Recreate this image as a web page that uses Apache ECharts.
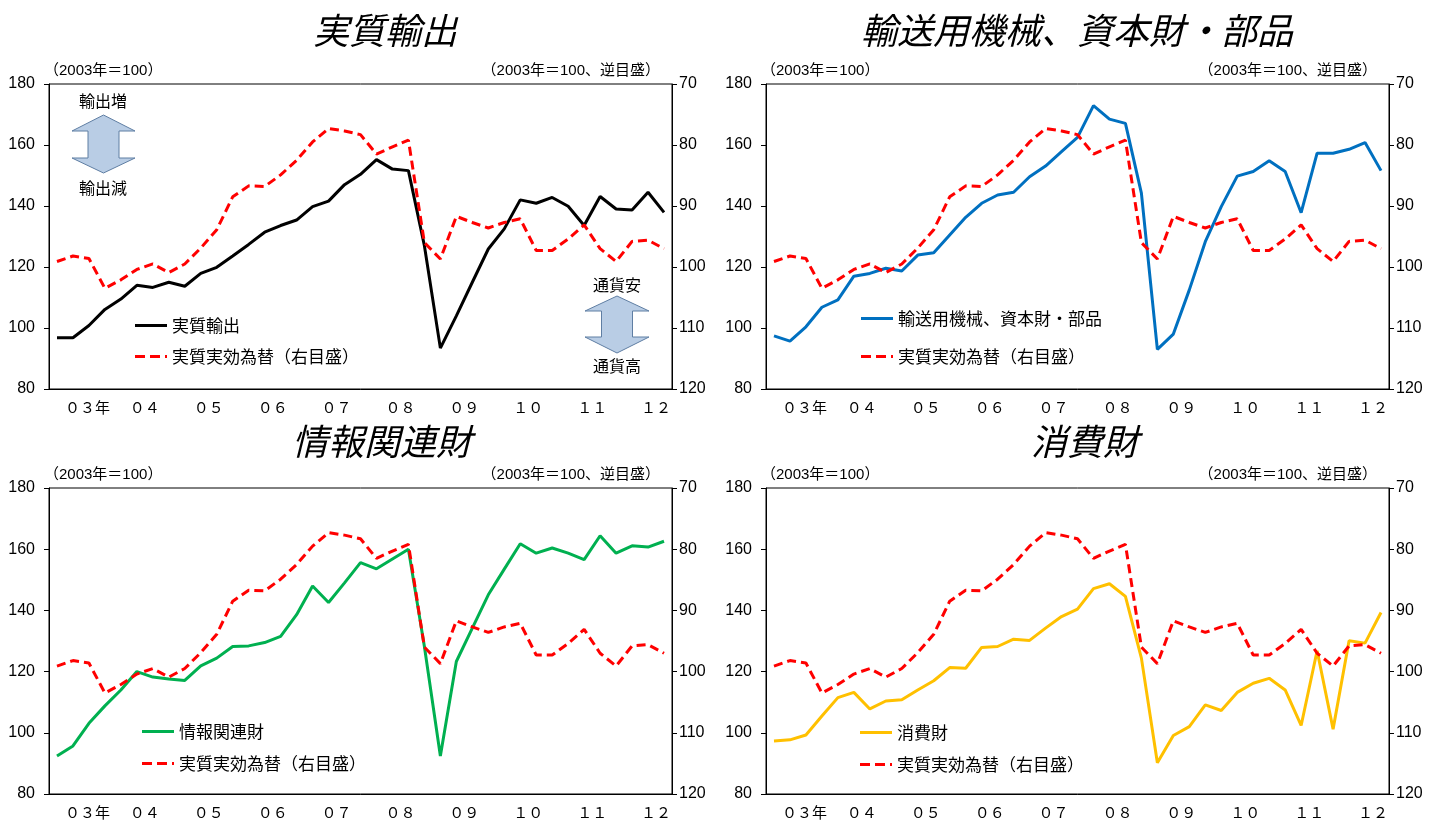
<!DOCTYPE html>
<html><head><meta charset="utf-8">
<script src="https://cdn.jsdelivr.net/npm/echarts@6/dist/echarts.min.js"></script>
<style>html,body{margin:0;padding:0;background:#fff}#c{width:1445px;height:823px}</style>
</head><body><div id="c"></div>
<script>
// ---- data ----
const yearLabels = ['０３年','０４','０５','０６','０７','０８','０９','１０','１１','１２'];
const quarterNames = ['Q1','Q2','Q3','Q4'];
const realExports = [96.8,96.8,100.8,106.1,109.5,114.0,113.3,115.0,113.7,117.9,119.9,123.6,127.4,131.4,133.6,135.4,139.8,141.6,147.0,150.4,155.2,152.1,151.6,127.0,93.4,104.0,115.0,125.9,132.5,142.0,140.9,142.8,139.9,133.6,143.1,139.0,138.7,144.5,137.9];
const transportCapital = [97.4,95.7,100.4,106.8,109.2,117.0,117.9,119.6,118.7,123.9,124.7,130.5,136.3,140.9,143.6,144.5,149.6,153.1,157.8,162.5,172.9,168.5,167.1,144.2,93.0,98.0,112.5,128.3,139.8,149.8,151.3,154.8,151.3,137.8,157.3,157.3,158.6,160.8,151.6];
const infoGoods = [92.4,95.7,103.1,108.8,114.0,120.0,118.2,117.6,117.1,121.9,124.4,128.2,128.4,129.5,131.5,138.6,148.0,142.6,149.0,155.6,153.6,156.8,160.0,128.2,92.4,123.3,134.2,145.1,153.5,161.8,158.7,160.4,158.7,156.6,164.4,158.7,161.1,160.7,162.6];
const consumerGoods = [97.3,97.7,99.3,105.5,111.5,113.2,107.8,110.4,110.8,114.0,117.0,121.3,121.1,127.9,128.2,130.6,130.2,134.2,138.0,140.4,147.1,148.7,144.6,124.4,90.2,99.1,102.0,109.1,107.3,113.2,116.2,117.8,114.0,102.4,126.8,101.2,130.1,129.3,139.3];
const reer = [99.1,98.2,98.6,103.5,102.1,100.4,99.5,100.9,99.5,96.9,93.9,88.5,86.7,86.8,84.9,82.5,79.5,77.3,77.7,78.3,81.5,80.3,79.2,96.0,98.7,91.7,92.7,93.6,92.7,92.1,97.3,97.3,95.4,93.1,97.0,99.1,95.8,95.6,97.0];
const leftAxis = {min: 80, max: 180, interval: 20};
const rightAxis = {min: 70, max: 120, interval: 10};
const panelTitles = ['実質輸出','輸送用機械、資本財・部品','情報関連財','消費財'];
const seriesNames = ['実質輸出','輸送用機械、資本財・部品','情報関連財','消費財'];
const reerName = '実質実効為替（右目盛）';
const leftSub = '（2003年＝100）';
const rightSub = '（2003年＝100、逆目盛）';

const categories = [];
for (let i = 0; i < realExports.length; i++) categories.push(yearLabels[Math.floor(i/4)] + quarterNames[i%4]);

// ---- layout ----
const CJK = '"Noto Sans CJK JP", "Noto Sans", sans-serif';
const MIX = '"Liberation Sans", "Noto Sans CJK JP", sans-serif';
const NUM = '"Liberation Sans Narrow", "Liberation Sans", Arial, sans-serif';
const SOLID_ICON = 'path://M0,0h32v3h-32z';
const DASH_ICON = 'path://M0,0h10v3h-10zM15,0h10v3h-10zM30,0h2v3h-2z';
const panels = [
  {left: 49, top: 84, width: 623, height: 305, data: realExports, color: '#000000', title: [385, 30], legend: [135, 317, 14]},
  {left: 766, top: 84, width: 623, height: 305, data: transportCapital, color: '#0070C0', title: [1077, 30], legend: [861, 310, 21]},
  {left: 49, top: 488, width: 623, height: 306, data: infoGoods, color: '#00B050', title: [382, 441], legend: [142, 723, 15]},
  {left: 766, top: 488, width: 623, height: 306, data: consumerGoods, color: '#FFC000', title: [1085, 441], legend: [860, 724, 15]}
];

const grid = [], xAxis = [], yAxis = [], series = [], legend = [], graphic = [];
panels.forEach((p, k) => {
  grid.push({left: p.left, top: p.top, width: p.width, height: p.height, show: true, borderColor: '#000', borderWidth: 1, containLabel: false});
  xAxis.push({
    type: 'category', gridIndex: k, data: categories, boundaryGap: true,
    axisLine: {lineStyle: {color: '#000', width: 1}},
    axisTick: {inside: true, length: 6, interval: (i) => i % 4 === 0, lineStyle: {color: '#000'}},
    axisLabel: {
      interval: (i) => i % 4 === 1, margin: 11, color: '#000',
      formatter: (v, i) => { const y = Math.floor(i/4); return (y === 0 ? '{f|' : '{n|') + yearLabels[y] + '}'; },
      rich: {
        f: {fontSize: 15, fontFamily: CJK, color: '#000', padding: [0,0,0,29]},
        n: {fontSize: 15, fontFamily: CJK, color: '#000', padding: [0,0,0,16]}
      }
    },
    splitLine: {show: false}
  });
  yAxis.push({
    type: 'value', gridIndex: k, position: 'left', min: leftAxis.min, max: leftAxis.max, interval: leftAxis.interval,
    axisLine: {show: true, lineStyle: {color: '#000'}},
    axisTick: {show: true, length: 5, lineStyle: {color: '#000'}},
    axisLabel: {color: '#000', fontSize: 16, fontFamily: NUM, margin: 14},
    splitLine: {show: false}
  });
  yAxis.push({
    type: 'value', gridIndex: k, position: 'right', inverse: true, min: rightAxis.min, max: rightAxis.max, interval: rightAxis.interval,
    axisLine: {show: true, lineStyle: {color: '#000'}},
    axisTick: {show: true, length: 5, lineStyle: {color: '#000'}},
    axisLabel: {color: '#000', fontSize: 16, fontFamily: NUM, margin: 7},
    splitLine: {show: false}
  });
  series.push({
    name: seriesNames[k], type: 'line', xAxisIndex: k, yAxisIndex: 2*k, data: p.data,
    symbol: 'none', color: p.color, lineStyle: {color: p.color, width: 3}, animation: false, z: 2
  });
  series.push({
    name: reerName, type: 'line', xAxisIndex: k, yAxisIndex: 2*k+1, data: reer,
    symbol: 'none', color: '#FF0000', lineStyle: {color: '#FF0000', width: 3, type: [9,5]}, animation: false, z: 3
  });
  legend.push({
    data: [{name: seriesNames[k], icon: SOLID_ICON}, {name: reerName, icon: DASH_ICON}],
    orient: 'vertical', left: p.legend[0], top: p.legend[1], padding: 0,
    itemWidth: 32, itemHeight: 3, itemGap: p.legend[2], selectedMode: false,
    textStyle: {fontSize: 17, fontFamily: CJK, color: '#000'}
  });
  graphic.push({type: 'text', style: {text: panelTitles[k], x: p.title[0], y: p.title[1], fill: '#000',
    font: 'italic 36px ' + CJK, align: 'center', verticalAlign: 'middle', textAlign: 'center', textVerticalAlign: 'middle'}});
  graphic.push({type: 'text', style: {text: leftSub, x: p.left - 5, y: p.top - 13, fill: '#000',
    font: '15px ' + MIX, align: 'left', verticalAlign: 'middle', textAlign: 'left', textVerticalAlign: 'middle'}});
  graphic.push({type: 'text', style: {text: rightSub, x: p.left + p.width - 12, y: p.top - 13, fill: '#000',
    font: '15px ' + MIX, align: 'right', verticalAlign: 'middle', textAlign: 'right', textVerticalAlign: 'middle'}});
});

function arrow(cx, yTop, yHead1, yHead2, yBot, halfHead, halfShaft) {
  return {type: 'polygon', shape: {points: [
    [cx, yTop], [cx + halfHead, yHead1], [cx + halfShaft, yHead1], [cx + halfShaft, yHead2], [cx + halfHead, yHead2],
    [cx, yBot], [cx - halfHead, yHead2], [cx - halfShaft, yHead2], [cx - halfShaft, yHead1], [cx - halfHead, yHead1]
  ]}, style: {fill: '#B9CDE5', stroke: '#5F7EA3', lineWidth: 1}};
}
graphic.push(arrow(103.5, 115, 131, 158, 173, 31.5, 15.5));
graphic.push(arrow(617, 296, 311, 337, 353, 32, 15.5));
const note = (t, x, y) => ({type: 'text', style: {text: t, x: x, y: y, fill: '#000', font: '16px ' + CJK,
  align: 'center', verticalAlign: 'middle', textAlign: 'center', textVerticalAlign: 'middle'}});
graphic.push(note('輸出増', 103, 101));
graphic.push(note('輸出減', 103, 188));
graphic.push(note('通貨安', 617, 285));
graphic.push(note('通貨高', 617, 366));

const chart = echarts.init(document.getElementById('c'), null, {renderer: 'canvas'});
chart.setOption({animation: false, backgroundColor: '#fff', grid, xAxis, yAxis, series, legend, graphic});
</script></body></html>
